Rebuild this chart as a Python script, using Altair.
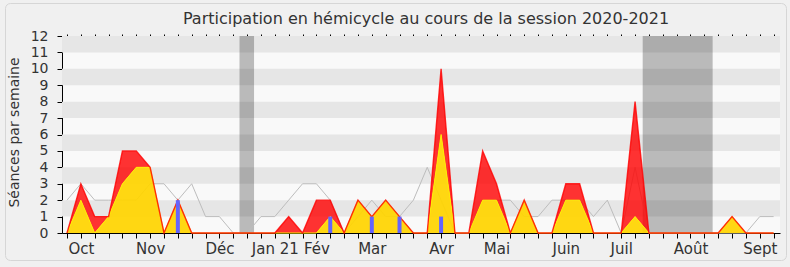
import altair as alt
import pandas as pd

# ---- data (weekly values) ----
weeks = list(range(52))
red = [0, 3, 1, 1, 5, 5, 4, 0, 2, 0,
       0, 0, 0, 0, 0, 0, 1, 0, 2, 2,
       0, 2, 1, 2, 1, 0, 0, 10, 0, 0,
       5, 3, 0, 2, 0, 0, 3, 3, 0, 0,
       0, 8, 0, 0, 0, 0, 0, 0, 1, 0,
       0, 0]
yellow = [0, 2, 0, 1, 3, 4, 4, 0, 2, 0,
          0, 0, 0, 0, 0, 0, 0, 0, 0, 1,
          0, 2, 1, 2, 1, 0, 0, 6, 0, 0,
          2, 2, 0, 2, 0, 0, 2, 2, 0, 0,
          0, 1, 0, 0, 0, 0, 0, 0, 1, 0,
          0, 0]
median = [2, 3, 2, 2, 2, 2, 3, 3, 2, 3,
          1, 1, 0, 0, 1, 1, 2, 3, 3, 2,
          0, 1, 2, 1, 1, 2, 4, 2, 0, 0,
          2, 2, 2, 1, 1, 2, 2, 2, 1, 2,
          0, 4, 0, 0, 0, 0, 0, 0, 0, 0,
          1, 1]
blue_weeks = [8, 19, 22, 24, 27]
blue_vals = [2, 1, 1, 1, 1]
vac_start = [12.45, 41.55]
vac_end = [13.5, 46.6]
stripe_lo = [1, 3, 5, 7, 9, 11]
month_weeks = [1, 6, 11, 15, 18, 22, 27, 31, 36, 40, 45, 50]
month_names = ["Oct", "Nov", "Déc", "Jan 21", "Fév", "Mar", "Avr", "Mai",
               "Juin", "Juil", "Août", "Sept"]
y_ticks = list(range(13))

df = pd.DataFrame({"week": weeks, "red": red, "yellow": yellow, "median": median})
blue_df = pd.DataFrame({"week": blue_weeks, "q": blue_vals})
vac_df = pd.DataFrame({"s": vac_start, "e": vac_end})
stripe_df = pd.DataFrame({"lo": stripe_lo, "hi": [v + 1 for v in stripe_lo]})

FONT = "DejaVu Sans"
label_expr = " : ".join(
    f"datum.value == {w} ? '{n}'" for w, n in zip(month_weeks, month_names)
) + " : ''"

xs = alt.Scale(domain=[0, 51.1], nice=False, zero=False)
ys = alt.Scale(domain=[0, 12], nice=False)

y_axis = alt.Axis(values=y_ticks, tickSize=5, labelPadding=9, labelFontSize=14,
                  labelFont=FONT, labelColor="#333", domainColor="#000",
                  tickColor="#000", grid=False, title="Séances par semaine",
                  titleFont=FONT, titleFontSize=14, titleFontWeight="normal",
                  titleColor="#333", titleAngle=-90, titleAlign="center",
                  titleBaseline="middle", titleX=-48, titleY=96)
x_axis_bottom = alt.Axis(values=weeks, tickSize=5, labelExpr=label_expr,
                         labelOverlap=False, labelFlush=False, labelFontSize=15,
                         labelFont=FONT, labelColor="#333", labelPadding=3,
                         domainColor="#000", tickColor="#000", grid=False, title=None)
x_axis_top = alt.Axis(orient="top", values=weeks, tickSize=2, labels=False,
                      domain=False, tickColor="#000", grid=False, title=None)


def Y(field):
    return alt.Y(field, scale=ys, axis=y_axis, title="Séances par semaine")


stripes = alt.Chart(stripe_df).mark_rect(color="#e6e6e6").encode(
    y=Y("lo:Q"), y2="hi:Q")

vac = alt.Chart(vac_df).mark_rect(color="#000", opacity=0.25).encode(
    x=alt.X("s:Q", scale=xs, axis=x_axis_top), x2="e:Q")

med = alt.Chart(df).mark_line(color="#bdbdbd", strokeWidth=1).encode(
    x=alt.X("week:Q", scale=xs, axis=x_axis_bottom),
    y=Y("median:Q"))

red_band = alt.Chart(df).mark_area(color="#ff0000", opacity=0.8).encode(
    x=alt.X("week:Q", scale=xs, axis=None),
    y=Y("yellow:Q"), y2="red:Q")

yel_area = alt.Chart(df).mark_area(color="#ffd400", opacity=0.93).encode(
    x=alt.X("week:Q", scale=xs, axis=None),
    y=Y("yellow:Q"))

yel_line = alt.Chart(df).mark_line(color="#ffee00", strokeWidth=1).encode(
    x=alt.X("week:Q", scale=xs, axis=None),
    y=Y("yellow:Q"))

red_line = alt.Chart(df).mark_line(color="#ff0000", strokeWidth=1.4, opacity=0.8).encode(
    x=alt.X("week:Q", scale=xs, axis=None),
    y=Y("red:Q"))

bars = alt.Chart(blue_df).mark_bar(color="#6464ff", size=4).encode(
    x=alt.X("week:Q", scale=xs, axis=None),
    y=Y("q:Q"))

frame = alt.Chart(pd.DataFrame({"k": [0]})).mark_rect(
    fillOpacity=0, stroke="#d6d6d6", strokeWidth=1, cornerRadius=5).encode(
    x=alt.value(-56.5), x2=alt.value(724.5), y=alt.value(-32.5), y2=alt.value(224.5))

chart = alt.layer(
    frame, stripes, vac, med, red_band, yel_area, yel_line, red_line, bars
).resolve_axis(x="independent").properties(
    width=718, height=197,
    title=alt.TitleParams(
        "Participation en hémicycle au cours de la session 2020-2021",
        font=FONT, fontSize=16, fontWeight="normal", color="#333",
        anchor="middle", dx=5, offset=0, dy=24),
    autosize=alt.AutoSizeParams(type="none"),
    padding={"left": 62, "top": 36, "right": 10, "bottom": 34},
    background="#f0f0f0",
).configure_view(stroke=None, fill="#f9f9f9")

chart.save("out.html", embed_options={"renderer": "svg", "actions": False})
